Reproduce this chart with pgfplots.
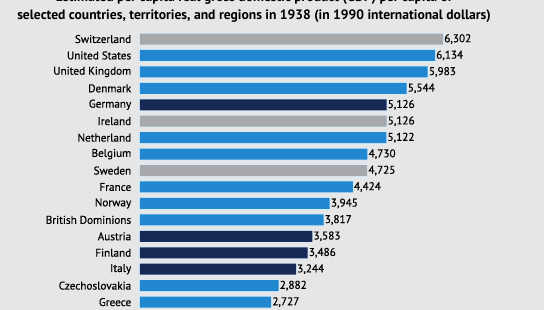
\documentclass[border=0pt]{standalone}
\usepackage{pgfplots}
\pgfplotsset{compat=1.18}
\usepackage{fontspec}
\setmainfont{PT Sans}
\newfontfamily\medfont[FakeBold=0.6]{PT Sans}

\definecolor{bgc}{HTML}{E6E6E6}
\definecolor{barblue}{HTML}{2187D0}
\definecolor{barnavy}{HTML}{172A55}
\definecolor{bargray}{HTML}{A6A8AB}
\definecolor{halo}{HTML}{DDEAF4}

\begin{document}
\begin{tikzpicture}[x=1pt,y=1pt]
\useasboundingbox (0,0) rectangle (550,310);
\clip (0,0) rectangle (550,310);
\fill[bgc] (0,0) rectangle (544,310);
\fill[white] (544,0) rectangle (550,310);

% title (upper line runs off the top edge)
\node[anchor=base, font=\bfseries\fontsize{13.6}{15}\selectfont] at (254,308.3)
  {Estimated per capita real gross domestic product (GDP) per capita of};
\node[anchor=base, font=\bfseries\fontsize{13.6}{15}\selectfont] at (254,290)
  {selected countries, territories, and regions in 1938 (in 1990 international dollars)};

\begin{axis}[
  at={(140pt,-0.3pt)}, anchor=south west,
  width=404pt, height=279.5pt, scale only axis,
  xmin=0, xmax=8400, ymin=-0.5, ymax=16.5, y dir=reverse,
  axis line style={draw=none}, tick style={draw=none},
  xtick=\empty,
  ytick={0,...,16},
  yticklabels={Switzerland,United States,United Kingdom,Denmark,Germany,Ireland,Netherland,Belgium,Sweden,France,Norway,British Dominions,Austria,Finland,Italy,Czechoslovakia,Greece},
  yticklabel style={font=\medfont\fontsize{11.2}{12}\selectfont, xshift=-1pt},
  xbar, bar width=11pt, bar shift=0pt,
  clip=false,
  nodes near coords,
  nodes near coords style={font=\medfont\fontsize{11.2}{12}\selectfont, anchor=west, inner sep=1pt, text=black},
  /pgf/number format/.cd, fixed, precision=0, 1000 sep={,}, assume math mode=true,
]
% light rim behind every bar
\addplot[fill=halo, draw=halo, line width=3.2pt, nodes near coords={}] coordinates {
  (6302,0) (6134,1) (5983,2) (5544,3) (5126,4) (5126,5) (5122,6) (4730,7) (4725,8)
  (4424,9) (3945,10) (3817,11) (3583,12) (3486,13) (3244,14) (2882,15) (2727,16)};
\addplot[fill=barblue, draw=none] coordinates {
  (6134,1) (5983,2) (5544,3) (5122,6) (4730,7) (4424,9) (3945,10) (3817,11) (2882,15) (2727,16)};
\addplot[fill=barnavy, draw=none] coordinates {
  (5126,4) (3583,12) (3486,13) (3244,14)};
\addplot[fill=bargray, draw=none] coordinates {
  (6302,0) (5126,5) (4725,8)};
\end{axis}
\end{tikzpicture}
\end{document}
